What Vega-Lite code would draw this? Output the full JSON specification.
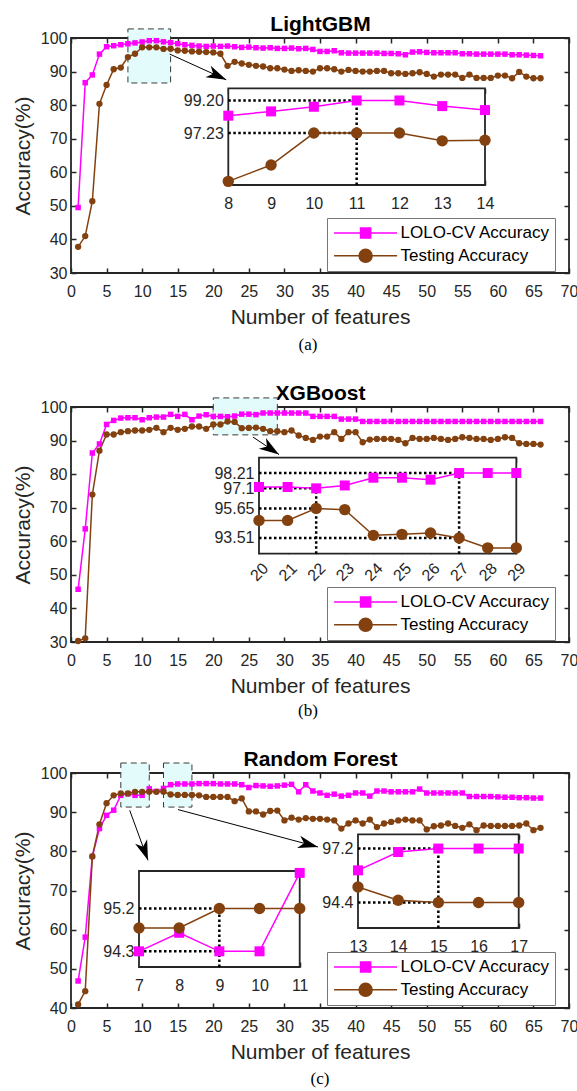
{
"$schema": "https://vega.github.io/schema/vega-lite/v6.json",
"padding": {"left": 11, "top": 12, "right": 2, "bottom": 0},
"background": "white",
"spacing": 27,
"resolve": {"scale": {"x": "independent", "y": "independent", "color": "independent"}},
"datasets": {
"a": [
{"x":1,"lolo":49.5,"test":37.8},{"x":2,"lolo":86.7,"test":41.0},{"x":3,"lolo":89.0,"test":51.4},{"x":4,"lolo":95.2,"test":80.4},{"x":5,"lolo":97.4,"test":86.0},{"x":6,"lolo":97.7,"test":90.7},{"x":7,"lolo":98.0,"test":91.2},{"x":8,"lolo":98.28,"test":94.31},{"x":9,"lolo":98.54,"test":95.30},{"x":10,"lolo":98.82,"test":97.23},
{"x":11,"lolo":99.2,"test":97.23},{"x":12,"lolo":99.2,"test":97.23},{"x":13,"lolo":98.86,"test":96.76},{"x":14,"lolo":98.62,"test":96.8},{"x":15,"lolo":98.3,"test":96.3},{"x":16,"lolo":98.0,"test":96.2},{"x":17,"lolo":97.8,"test":96.0},{"x":18,"lolo":97.6,"test":95.9},{"x":19,"lolo":97.5,"test":95.8},{"x":20,"lolo":97.6,"test":95.7},
{"x":21,"lolo":97.5,"test":95.3},{"x":22,"lolo":97.6,"test":91.7},{"x":23,"lolo":97.4,"test":92.9},{"x":24,"lolo":97.2,"test":92.4},{"x":25,"lolo":97.3,"test":92.0},{"x":26,"lolo":97.1,"test":91.7},{"x":27,"lolo":97.0,"test":91.5},{"x":28,"lolo":97.1,"test":91.0},{"x":29,"lolo":96.9,"test":91.0},{"x":30,"lolo":96.9,"test":90.6},
{"x":31,"lolo":97.0,"test":90.2},{"x":32,"lolo":96.8,"test":90.4},{"x":33,"lolo":96.9,"test":90.2},{"x":34,"lolo":96.6,"test":90.0},{"x":35,"lolo":96.0,"test":91.0},{"x":36,"lolo":96.0,"test":91.0},{"x":37,"lolo":96.2,"test":90.7},{"x":38,"lolo":95.6,"test":90.0},{"x":39,"lolo":95.5,"test":90.5},{"x":40,"lolo":95.5,"test":90.2},
{"x":41,"lolo":95.5,"test":90.0},{"x":42,"lolo":95.5,"test":90.0},{"x":43,"lolo":95.5,"test":90.2},{"x":44,"lolo":95.4,"test":90.2},{"x":45,"lolo":95.4,"test":89.5},{"x":46,"lolo":95.3,"test":89.5},{"x":47,"lolo":95.0,"test":89.3},{"x":48,"lolo":95.8,"test":89.5},{"x":49,"lolo":95.9,"test":89.8},{"x":50,"lolo":95.7,"test":89.3},
{"x":51,"lolo":95.6,"test":88.5},{"x":52,"lolo":95.6,"test":89.1},{"x":53,"lolo":95.6,"test":89.1},{"x":54,"lolo":95.6,"test":89.1},{"x":55,"lolo":95.3,"test":88.1},{"x":56,"lolo":95.3,"test":89.1},{"x":57,"lolo":95.2,"test":88.1},{"x":58,"lolo":95.2,"test":88.1},{"x":59,"lolo":95.2,"test":88.1},{"x":60,"lolo":95.2,"test":88.8},
{"x":61,"lolo":95.2,"test":88.8},{"x":62,"lolo":95.0,"test":88.0},{"x":63,"lolo":95.0,"test":89.9},{"x":64,"lolo":94.9,"test":88.5},{"x":65,"lolo":94.8,"test":88.0},{"x":66,"lolo":94.7,"test":88.0}
],
"b": [
{"x":1,"lolo":45.7,"test":30.3},{"x":2,"lolo":63.7,"test":31.1},{"x":3,"lolo":86.3,"test":73.9},{"x":4,"lolo":89.0,"test":87.0},{"x":5,"lolo":94.8,"test":91.8},{"x":6,"lolo":96.0,"test":91.8},{"x":7,"lolo":96.7,"test":92.5},{"x":8,"lolo":96.8,"test":92.8},{"x":9,"lolo":96.8,"test":93.0},{"x":10,"lolo":96.2,"test":93.0},
{"x":11,"lolo":96.8,"test":93.2},{"x":12,"lolo":97.0,"test":93.8},{"x":13,"lolo":97.0,"test":92.5},{"x":14,"lolo":97.8,"test":93.8},{"x":15,"lolo":97.2,"test":93.2},{"x":16,"lolo":97.8,"test":93.5},{"x":17,"lolo":96.2,"test":94.2},{"x":18,"lolo":97.3,"test":94.2},{"x":19,"lolo":97.7,"test":93.5},{"x":20,"lolo":97.2,"test":94.78},
{"x":21,"lolo":97.2,"test":94.78},{"x":22,"lolo":97.1,"test":95.65},{"x":23,"lolo":97.31,"test":95.56},{"x":24,"lolo":97.87,"test":93.70},{"x":25,"lolo":97.87,"test":93.77},{"x":26,"lolo":97.73,"test":93.87},{"x":27,"lolo":98.21,"test":93.51},{"x":28,"lolo":98.21,"test":92.79},{"x":29,"lolo":98.21,"test":92.79},{"x":30,"lolo":98.2,"test":92.5},
{"x":31,"lolo":98.2,"test":93.0},{"x":32,"lolo":98.2,"test":91.5},{"x":33,"lolo":98.2,"test":90.8},{"x":34,"lolo":97.2,"test":90.2},{"x":35,"lolo":97.2,"test":91.2},{"x":36,"lolo":97.2,"test":91.2},{"x":37,"lolo":97.2,"test":92.5},{"x":38,"lolo":96.4,"test":90.5},{"x":39,"lolo":96.4,"test":92.5},{"x":40,"lolo":96.4,"test":92.5},
{"x":41,"lolo":95.7,"test":89.5},{"x":42,"lolo":95.7,"test":90.3},{"x":43,"lolo":95.7,"test":90.5},{"x":44,"lolo":95.7,"test":90.5},{"x":45,"lolo":95.7,"test":90.5},{"x":46,"lolo":95.7,"test":90.2},{"x":47,"lolo":95.7,"test":89.2},{"x":48,"lolo":95.7,"test":90.8},{"x":49,"lolo":95.7,"test":90.5},{"x":50,"lolo":95.7,"test":90.5},
{"x":51,"lolo":95.7,"test":90.8},{"x":52,"lolo":95.7,"test":90.5},{"x":53,"lolo":95.7,"test":90.2},{"x":54,"lolo":95.7,"test":90.5},{"x":55,"lolo":95.7,"test":91.0},{"x":56,"lolo":95.7,"test":90.8},{"x":57,"lolo":95.7,"test":90.5},{"x":58,"lolo":95.7,"test":90.5},{"x":59,"lolo":95.7,"test":90.2},{"x":60,"lolo":95.7,"test":90.5},
{"x":61,"lolo":95.7,"test":91.0},{"x":62,"lolo":95.7,"test":90.8},{"x":63,"lolo":95.7,"test":89.2},{"x":64,"lolo":95.7,"test":89.0},{"x":65,"lolo":95.7,"test":89.0},{"x":66,"lolo":95.7,"test":88.8}
],
"c": [
{"x":1,"lolo":46.9,"test":40.9},{"x":2,"lolo":58.1,"test":44.3},{"x":3,"lolo":78.7,"test":78.7},{"x":4,"lolo":85.8,"test":86.9},{"x":5,"lolo":89.2,"test":92.3},{"x":6,"lolo":90.5,"test":94.3},{"x":7,"lolo":94.3,"test":94.79},{"x":8,"lolo":94.69,"test":94.79},{"x":9,"lolo":94.3,"test":95.2},{"x":10,"lolo":94.3,"test":95.2},
{"x":11,"lolo":95.95,"test":95.2},{"x":12,"lolo":95.3,"test":95.2},{"x":13,"lolo":96.07,"test":95.21},{"x":14,"lolo":97.02,"test":94.52},{"x":15,"lolo":97.2,"test":94.4},{"x":16,"lolo":97.2,"test":94.4},{"x":17,"lolo":97.2,"test":94.4},{"x":18,"lolo":97.3,"test":94.3},{"x":19,"lolo":97.3,"test":93.9},{"x":20,"lolo":97.3,"test":93.9},
{"x":21,"lolo":97.2,"test":93.9},{"x":22,"lolo":97.2,"test":93.9},{"x":23,"lolo":97.2,"test":92.8},{"x":24,"lolo":97.0,"test":93.5},{"x":25,"lolo":96.3,"test":90.2},{"x":26,"lolo":96.8,"test":90.2},{"x":27,"lolo":96.7,"test":89.4},{"x":28,"lolo":96.6,"test":90.3},{"x":29,"lolo":96.7,"test":90.4},{"x":30,"lolo":96.9,"test":87.9},
{"x":31,"lolo":97.1,"test":88.6},{"x":32,"lolo":95.2,"test":88.1},{"x":33,"lolo":97.0,"test":88.5},{"x":34,"lolo":95.4,"test":88.3},{"x":35,"lolo":94.9,"test":88.3},{"x":36,"lolo":94.3,"test":88.1},{"x":37,"lolo":94.6,"test":87.9},{"x":38,"lolo":94.1,"test":85.8},{"x":39,"lolo":94.3,"test":87.1},{"x":40,"lolo":94.9,"test":87.9},
{"x":41,"lolo":94.9,"test":87.1},{"x":42,"lolo":94.1,"test":88.1},{"x":43,"lolo":95.4,"test":86.2},{"x":44,"lolo":95.4,"test":87.1},{"x":45,"lolo":95.2,"test":87.5},{"x":46,"lolo":95.2,"test":87.9},{"x":47,"lolo":95.2,"test":88.1},{"x":48,"lolo":95.2,"test":87.9},{"x":49,"lolo":95.9,"test":87.9},{"x":50,"lolo":94.9,"test":85.6},
{"x":51,"lolo":94.9,"test":86.4},{"x":52,"lolo":94.9,"test":86.6},{"x":53,"lolo":94.9,"test":87.1},{"x":54,"lolo":94.9,"test":86.5},{"x":55,"lolo":94.9,"test":86.0},{"x":56,"lolo":94.0,"test":86.9},{"x":57,"lolo":94.0,"test":85.4},{"x":58,"lolo":94.0,"test":86.6},{"x":59,"lolo":94.0,"test":86.5},{"x":60,"lolo":93.9,"test":86.5},
{"x":61,"lolo":93.8,"test":86.5},{"x":62,"lolo":93.8,"test":86.5},{"x":63,"lolo":93.7,"test":86.6},{"x":64,"lolo":93.7,"test":87.1},{"x":65,"lolo":93.6,"test":85.4},{"x":66,"lolo":93.6,"test":86.0}
]
},
"vconcat": [
{
"width": 498, "height": 235,
"title": {"text": "(a)", "orient": "bottom", "offset": 10, "dx": -12},
"resolve": {"scale": {"x": "independent", "y": "independent"}},
"layer": [
{"data": {"values": [{"x": 8, "x2": 14, "y": 86.6, "y2": 102.7}]},
 "mark": {"type": "rect", "fill": "#e4fbfb", "stroke": "#3a3a3a", "strokeDash": [6, 4], "strokeWidth": 1},
 "encoding": {
  "x": {"field": "x", "type": "quantitative", "scale": {"domain": [0, 70], "nice": false, "zero": false},
        "axis": {"orient": "top", "values": [0,5,10,15,20,25,30,35,40,45,50,55,60,65,70], "tickSize": -5, "labels": false, "title": "LightGBM", "titleFontWeight": "bold", "titleFontSize": 21, "titleColor": "black", "titlePadding": 3}},
  "x2": {"field": "x2"},
  "y": {"field": "y", "type": "quantitative", "scale": {"domain": [30, 100], "nice": false, "zero": false},
        "axis": {"orient": "right", "values": [30,40,50,60,70,80,90,100], "tickSize": -5, "labels": false, "title": null}},
  "y2": {"field": "y2"}
 }},
{"data": {"name": "a"},
 "transform": [{"fold": ["lolo", "test"], "as": ["s", "y"]}],
 "encoding": {
  "x": {"field": "x", "type": "quantitative", "scale": {"domain": [0, 70], "nice": false, "zero": false},
        "axis": {"orient": "bottom", "values": [0,5,10,15,20,25,30,35,40,45,50,55,60,65,70], "tickSize": -5, "labelPadding": 15, "title": "Number of features", "titlePadding": 7}},
  "y": {"field": "y", "type": "quantitative", "scale": {"domain": [30, 100], "nice": false, "zero": false},
        "axis": {"orient": "left", "values": [30,40,50,60,70,80,90,100], "tickSize": -5, "labelPadding": 9, "title": "Accuracy(%)", "titlePadding": 7}}
 },
 "layer": [
  {"mark": {"type": "line", "strokeWidth": 1.5},
   "encoding": {"color": {"field": "s", "type": "nominal", "scale": {"domain": ["lolo", "test"], "range": ["#ff00ff", "#82410f"]},
     "legend": {"orient": "none", "legendX": 256, "legendY": 180, "title": null, "padding": 5, "strokeColor": "#777777", "fillColor": "white", "labelFontSize": 17, "labelColor": "black", "labelFont": "Liberation Sans",
       "labelExpr": "datum.value === 'lolo' ? 'LOLO-CV Accuracy' : 'Testing Accuracy'", "symbolSize": 324, "symbolOffset": 23.6, "labelOffset": 25, "rowPadding": 3.8, "symbolStrokeWidth": 1.5,
       "encode": {"symbols": {"update": {
         "shape": {"signal": "datum.value === 'lolo' ? 'M-3.5,0L3.5,0M-0.56,-0.56L0.56,-0.56L0.56,0.56L-0.56,0.56Z' : 'M-3.5,0L3.5,0M-0.72,0A0.72,0.72,0,1,0,0.72,0A0.72,0.72,0,1,0,-0.72,0Z'"},
         "fill": {"signal": "datum.value === 'lolo' ? '#ff00ff' : '#82410f'"},
         "stroke": {"signal": "datum.value === 'lolo' ? '#ff00ff' : '#82410f'"},
         "strokeWidth": {"value": 1.5}, "opacity": {"value": 1}, "size": {"value": 324}}}}}}}},
  {"transform": [{"filter": "datum.s === 'lolo'"}], "mark": {"type": "point", "shape": "square", "filled": true, "size": 30, "opacity": 1}, "encoding": {"color": {"field": "s", "type": "nominal"}}},
  {"transform": [{"filter": "datum.s === 'test'"}], "mark": {"type": "point", "shape": "circle", "filled": true, "size": 40, "opacity": 1}, "encoding": {"color": {"field": "s", "type": "nominal"}}},
  {"data": {"values": [{"x": 13.87, "y": 95.22, "x2": 21.83, "y2": 87.55}]}, "mark": {"type": "rule", "color": "black", "strokeWidth": 1}, "encoding": {"x2": {"field": "x2"}, "y2": {"field": "y2"}}},
  {"data": {"values": [{"x": 21.83, "y": 87.55}]}, "mark": {"type": "point", "shape": "M0,0L-1,-0.32L-0.72,0L-1,0.32Z", "filled": true, "color": "black", "size": 1600, "angle": 24.4, "opacity": 1}, "encoding": {}}
 ]},
{"data": {"values": [{}]},
 "mark": {"type": "rect", "fill": "white", "stroke": "#262626", "strokeWidth": 1.8},
 "encoding": {
  "x": {"datum": 8, "type": "quantitative", "scale": {"domain": [8, 14], "range": [157.3, 414], "nice": false, "zero": false},
        "axis": {"orient": "top", "offset": -50.4, "values": [8,9,10,11,12,13,14], "tickSize": -5, "labels": false, "title": null}},
  "x2": {"datum": 14},
  "y": {"datum": 94.09, "type": "quantitative", "scale": {"domain": [94.09, 99.93], "range": [147, 50.4], "nice": false, "zero": false}, "axis": null},
  "y2": {"datum": 99.93}
 }},
{"encoding": {
  "x": {"field": "x", "type": "quantitative", "scale": {"domain": [8, 14], "range": [157.3, 414], "nice": false, "zero": false},
        "axis": {"orient": "bottom", "offset": -88, "values": [8,9,10,11,12,13,14], "tickSize": -5, "labelPadding": 15, "title": null}},
  "y": {"field": "y", "type": "quantitative", "scale": {"domain": [94.09, 99.93], "range": [147, 50.4], "nice": false, "zero": false},
        "axis": {"orient": "left", "offset": -157.3, "values": [97.23, 99.2], "ticks": false, "labelPadding": 5, "labelExpr": "format(datum.value, '.2f')", "title": null}}
 },
 "layer": [
  {"data": {"values": [{"x": 8, "x2": 11, "y": 99.2, "y2": 99.2}, {"x": 8, "x2": 11, "y": 97.23, "y2": 97.23}, {"x": 11, "x2": 11, "y": 94.09, "y2": 99.2}]},
   "mark": {"type": "rule", "color": "black", "strokeWidth": 2.5, "strokeDash": [2.5, 2.5]}, "encoding": {"x2": {"field": "x2"}, "y2": {"field": "y2"}}},
  {"data": {"name": "a"}, "transform": [{"filter": "datum.x >= 8 && datum.x <= 14"}, {"fold": ["lolo", "test"], "as": ["s", "y"]}],
   "layer": [
    {"mark": {"type": "line", "strokeWidth": 1.5}, "encoding": {"color": {"field": "s", "type": "nominal"}}},
    {"transform": [{"filter": "datum.s === 'lolo'"}], "mark": {"type": "point", "shape": "square", "filled": true, "size": 100, "opacity": 1}, "encoding": {"color": {"field": "s", "type": "nominal"}}},
    {"transform": [{"filter": "datum.s === 'test'"}], "mark": {"type": "point", "shape": "circle", "filled": true, "size": 130, "opacity": 1}, "encoding": {"color": {"field": "s", "type": "nominal"}}}
   ]}
 ]}
]
},
{
"width": 498, "height": 235,
"title": {"text": "(b)", "orient": "bottom", "offset": 7, "dx": -12},
"resolve": {"scale": {"x": "independent", "y": "independent"}},
"layer": [
{"data": {"values": [{"x": 20, "x2": 29, "y": 91.7, "y2": 102.7}]},
 "mark": {"type": "rect", "fill": "#e4fbfb", "stroke": "#3a3a3a", "strokeDash": [6, 4], "strokeWidth": 1},
 "encoding": {
  "x": {"field": "x", "type": "quantitative", "scale": {"domain": [0, 70], "nice": false, "zero": false},
        "axis": {"orient": "top", "values": [0,5,10,15,20,25,30,35,40,45,50,55,60,65,70], "tickSize": -5, "labels": false, "title": "XGBoost", "titleFontWeight": "bold", "titleFontSize": 21, "titleColor": "black", "titlePadding": 3}},
  "x2": {"field": "x2"},
  "y": {"field": "y", "type": "quantitative", "scale": {"domain": [30, 100], "nice": false, "zero": false},
        "axis": {"orient": "right", "values": [30,40,50,60,70,80,90,100], "tickSize": -5, "labels": false, "title": null}},
  "y2": {"field": "y2"}
 }},
{"data": {"name": "b"},
 "transform": [{"fold": ["lolo", "test"], "as": ["s", "y"]}],
 "encoding": {
  "x": {"field": "x", "type": "quantitative", "scale": {"domain": [0, 70], "nice": false, "zero": false},
        "axis": {"orient": "bottom", "values": [0,5,10,15,20,25,30,35,40,45,50,55,60,65,70], "tickSize": -5, "labelPadding": 15, "title": "Number of features", "titlePadding": 7}},
  "y": {"field": "y", "type": "quantitative", "scale": {"domain": [30, 100], "nice": false, "zero": false},
        "axis": {"orient": "left", "values": [30,40,50,60,70,80,90,100], "tickSize": -5, "labelPadding": 9, "title": "Accuracy(%)", "titlePadding": 7}}
 },
 "layer": [
  {"mark": {"type": "line", "strokeWidth": 1.5},
   "encoding": {"color": {"field": "s", "type": "nominal", "scale": {"domain": ["lolo", "test"], "range": ["#ff00ff", "#82410f"]},
     "legend": {"orient": "none", "legendX": 256, "legendY": 180, "title": null, "padding": 5, "strokeColor": "#777777", "fillColor": "white", "labelFontSize": 17, "labelColor": "black", "labelFont": "Liberation Sans",
       "labelExpr": "datum.value === 'lolo' ? 'LOLO-CV Accuracy' : 'Testing Accuracy'", "symbolSize": 324, "symbolOffset": 23.6, "labelOffset": 25, "rowPadding": 3.8, "symbolStrokeWidth": 1.5,
       "encode": {"symbols": {"update": {
         "shape": {"signal": "datum.value === 'lolo' ? 'M-3.5,0L3.5,0M-0.56,-0.56L0.56,-0.56L0.56,0.56L-0.56,0.56Z' : 'M-3.5,0L3.5,0M-0.72,0A0.72,0.72,0,1,0,0.72,0A0.72,0.72,0,1,0,-0.72,0Z'"},
         "fill": {"signal": "datum.value === 'lolo' ? '#ff00ff' : '#82410f'"},
         "stroke": {"signal": "datum.value === 'lolo' ? '#ff00ff' : '#82410f'"},
         "strokeWidth": {"value": 1.5}, "opacity": {"value": 1}, "size": {"value": 324}}}}}}}},
  {"transform": [{"filter": "datum.s === 'lolo'"}], "mark": {"type": "point", "shape": "square", "filled": true, "size": 30, "opacity": 1}, "encoding": {"color": {"field": "s", "type": "nominal"}}},
  {"transform": [{"filter": "datum.s === 'test'"}], "mark": {"type": "point", "shape": "circle", "filled": true, "size": 40, "opacity": 1}, "encoding": {"color": {"field": "s", "type": "nominal"}}},
  {"data": {"values": [{"x": 25.58, "y": 91.04, "x2": 29.24, "y2": 85.85}]}, "mark": {"type": "rule", "color": "black", "strokeWidth": 1}, "encoding": {"x2": {"field": "x2"}, "y2": {"field": "y2"}}},
  {"data": {"values": [{"x": 29.24, "y": 85.85}]}, "mark": {"type": "point", "shape": "M0,0L-1,-0.32L-0.72,0L-1,0.32Z", "filled": true, "color": "black", "size": 1600, "angle": 33.7, "opacity": 1}, "encoding": {}}
 ]},
{"data": {"values": [{}]},
 "mark": {"type": "rect", "fill": "white", "stroke": "#262626", "strokeWidth": 1.8},
 "encoding": {
  "x": {"datum": 20, "type": "quantitative", "scale": {"domain": [20, 29], "range": [188, 445.3], "nice": false, "zero": false},
        "axis": {"orient": "top", "offset": -50.7, "values": [20,21,22,23,24,25,26,27,28,29], "tickSize": -5, "labels": false, "title": null}},
  "x2": {"datum": 29},
  "y": {"datum": 92.37, "type": "quantitative", "scale": {"domain": [92.37, 99.32], "range": [146.7, 50.7], "nice": false, "zero": false}, "axis": null},
  "y2": {"datum": 99.32}
 }},
{"encoding": {
  "x": {"field": "x", "type": "quantitative", "scale": {"domain": [20, 29], "range": [188, 445.3], "nice": false, "zero": false},
        "axis": {"orient": "bottom", "offset": -88.3, "values": [20,21,22,23,24,25,26,27,28,29], "tickSize": -5, "labelPadding": 23, "labelAngle": -45, "labelAlign": "center", "labelBaseline": "middle", "title": null}},
  "y": {"field": "y", "type": "quantitative", "scale": {"domain": [92.37, 99.32], "range": [146.7, 50.7], "nice": false, "zero": false},
        "axis": {"orient": "left", "offset": -188, "values": [93.51, 95.65, 97.1, 98.21], "ticks": false, "labelPadding": 5, "labelExpr": "'' + datum.value", "title": null}}
 },
 "layer": [
  {"data": {"values": [{"x": 20, "x2": 27, "y": 98.21, "y2": 98.21}, {"x": 20, "x2": 22, "y": 97.1, "y2": 97.1}, {"x": 20, "x2": 22, "y": 95.65, "y2": 95.65}, {"x": 20, "x2": 27, "y": 93.51, "y2": 93.51}, {"x": 22, "x2": 22, "y": 92.37, "y2": 97.1}, {"x": 27, "x2": 27, "y": 92.37, "y2": 98.21}]},
   "mark": {"type": "rule", "color": "black", "strokeWidth": 2.5, "strokeDash": [2.5, 2.5]}, "encoding": {"x2": {"field": "x2"}, "y2": {"field": "y2"}}},
  {"data": {"name": "b"}, "transform": [{"filter": "datum.x >= 20 && datum.x <= 29"}, {"fold": ["lolo", "test"], "as": ["s", "y"]}],
   "layer": [
    {"mark": {"type": "line", "strokeWidth": 1.5}, "encoding": {"color": {"field": "s", "type": "nominal"}}},
    {"transform": [{"filter": "datum.s === 'lolo'"}], "mark": {"type": "point", "shape": "square", "filled": true, "size": 100, "opacity": 1}, "encoding": {"color": {"field": "s", "type": "nominal"}}},
    {"transform": [{"filter": "datum.s === 'test'"}], "mark": {"type": "point", "shape": "circle", "filled": true, "size": 130, "opacity": 1}, "encoding": {"color": {"field": "s", "type": "nominal"}}}
   ]}
 ]}
]
},
{
"width": 498, "height": 235,
"title": {"text": "(c)", "orient": "bottom", "offset": 9},
"resolve": {"scale": {"x": "independent", "y": "independent"}},
"layer": [
{"data": {"values": [{"x": 7, "x2": 11, "y": 91.3, "y2": 102.55}, {"x": 13, "x2": 17, "y": 91.3, "y2": 102.55}]},
 "mark": {"type": "rect", "fill": "#e4fbfb", "stroke": "#3a3a3a", "strokeDash": [6, 4], "strokeWidth": 1},
 "encoding": {
  "x": {"field": "x", "type": "quantitative", "scale": {"domain": [0, 70], "nice": false, "zero": false},
        "axis": {"orient": "top", "values": [0,5,10,15,20,25,30,35,40,45,50,55,60,65,70], "tickSize": -5, "labels": false, "title": "Random Forest", "titleFontWeight": "bold", "titleFontSize": 21, "titleColor": "black", "titlePadding": 3}},
  "x2": {"field": "x2"},
  "y": {"field": "y", "type": "quantitative", "scale": {"domain": [40, 100], "nice": false, "zero": false},
        "axis": {"orient": "right", "values": [40,50,60,70,80,90,100], "tickSize": -5, "labels": false, "title": null}},
  "y2": {"field": "y2"}
 }},
{"data": {"name": "c"},
 "transform": [{"fold": ["lolo", "test"], "as": ["s", "y"]}],
 "encoding": {
  "x": {"field": "x", "type": "quantitative", "scale": {"domain": [0, 70], "nice": false, "zero": false},
        "axis": {"orient": "bottom", "values": [0,5,10,15,20,25,30,35,40,45,50,55,60,65,70], "tickSize": -5, "labelPadding": 15, "title": "Number of features", "titlePadding": 7}},
  "y": {"field": "y", "type": "quantitative", "scale": {"domain": [40, 100], "nice": false, "zero": false},
        "axis": {"orient": "left", "values": [40,50,60,70,80,90,100], "tickSize": -5, "labelPadding": 9, "title": "Accuracy(%)", "titlePadding": 7}}
 },
 "layer": [
  {"mark": {"type": "line", "strokeWidth": 1.5},
   "encoding": {"color": {"field": "s", "type": "nominal", "scale": {"domain": ["lolo", "test"], "range": ["#ff00ff", "#82410f"]},
     "legend": {"orient": "none", "legendX": 256, "legendY": 179, "title": null, "padding": 5, "strokeColor": "#777777", "fillColor": "white", "labelFontSize": 17, "labelColor": "black", "labelFont": "Liberation Sans",
       "labelExpr": "datum.value === 'lolo' ? 'LOLO-CV Accuracy' : 'Testing Accuracy'", "symbolSize": 324, "symbolOffset": 23.6, "labelOffset": 25, "rowPadding": 3.8, "symbolStrokeWidth": 1.5,
       "encode": {"symbols": {"update": {
         "shape": {"signal": "datum.value === 'lolo' ? 'M-3.5,0L3.5,0M-0.56,-0.56L0.56,-0.56L0.56,0.56L-0.56,0.56Z' : 'M-3.5,0L3.5,0M-0.72,0A0.72,0.72,0,1,0,0.72,0A0.72,0.72,0,1,0,-0.72,0Z'"},
         "fill": {"signal": "datum.value === 'lolo' ? '#ff00ff' : '#82410f'"},
         "stroke": {"signal": "datum.value === 'lolo' ? '#ff00ff' : '#82410f'"},
         "strokeWidth": {"value": 1.5}, "opacity": {"value": 1}, "size": {"value": 324}}}}}}}},
  {"transform": [{"filter": "datum.s === 'lolo'"}], "mark": {"type": "point", "shape": "square", "filled": true, "size": 30, "opacity": 1}, "encoding": {"color": {"field": "s", "type": "nominal"}}},
  {"transform": [{"filter": "datum.s === 'test'"}], "mark": {"type": "point", "shape": "circle", "filled": true, "size": 40, "opacity": 1}, "encoding": {"color": {"field": "s", "type": "nominal"}}},
  {"data": {"values": [{"x": 8.25, "y": 90.48, "x2": 10.82, "y2": 77.71}, {"x": 15.04, "y": 90.66, "x2": 34.72, "y2": 81.11}]}, "mark": {"type": "rule", "color": "black", "strokeWidth": 1}, "encoding": {"x2": {"field": "x2"}, "y2": {"field": "y2"}}},
  {"data": {"values": [{"x": 10.82, "y": 77.71}]}, "mark": {"type": "point", "shape": "M0,0L-1,-0.32L-0.72,0L-1,0.32Z", "filled": true, "color": "black", "size": 1600, "angle": 69.9, "opacity": 1}, "encoding": {}},
  {"data": {"values": [{"x": 34.72, "y": 81.11}]}, "mark": {"type": "point", "shape": "M0,0L-1,-0.32L-0.72,0L-1,0.32Z", "filled": true, "color": "black", "size": 1600, "angle": 15, "opacity": 1}, "encoding": {}}
 ]},
{"data": {"values": [{}]},
 "mark": {"type": "rect", "fill": "white", "stroke": "#262626", "strokeWidth": 1.8},
 "encoding": {
  "x": {"datum": 7, "type": "quantitative", "scale": {"domain": [7, 11], "range": [68, 228.7], "nice": false, "zero": false},
        "axis": {"orient": "top", "offset": -98, "values": [7,8,9,10,11], "tickSize": -5, "labels": false, "title": null}},
  "x2": {"datum": 11},
  "y": {"datum": 93.97, "type": "quantitative", "scale": {"domain": [93.97, 95.99], "range": [194, 98], "nice": false, "zero": false}, "axis": null},
  "y2": {"datum": 95.99}
 }},
{"encoding": {
  "x": {"field": "x", "type": "quantitative", "scale": {"domain": [7, 11], "range": [68, 228.7], "nice": false, "zero": false},
        "axis": {"orient": "bottom", "offset": -41, "values": [7,8,9,10,11], "tickSize": -5, "labelPadding": 15, "title": null}},
  "y": {"field": "y", "type": "quantitative", "scale": {"domain": [93.97, 95.99], "range": [194, 98], "nice": false, "zero": false},
        "axis": {"orient": "left", "offset": -68, "values": [94.3, 95.2], "ticks": false, "labelPadding": 5, "labelExpr": "'' + datum.value", "title": null}}
 },
 "layer": [
  {"data": {"values": [{"x": 7, "x2": 9, "y": 95.2, "y2": 95.2}, {"x": 7, "x2": 9, "y": 94.3, "y2": 94.3}, {"x": 9, "x2": 9, "y": 93.97, "y2": 95.2}]},
   "mark": {"type": "rule", "color": "black", "strokeWidth": 2.5, "strokeDash": [2.5, 2.5]}, "encoding": {"x2": {"field": "x2"}, "y2": {"field": "y2"}}},
  {"data": {"name": "c"}, "transform": [{"filter": "datum.x >= 7 && datum.x <= 11"}, {"fold": ["lolo", "test"], "as": ["s", "y"]}],
   "layer": [
    {"mark": {"type": "line", "strokeWidth": 1.5}, "encoding": {"color": {"field": "s", "type": "nominal"}}},
    {"transform": [{"filter": "datum.s === 'lolo'"}], "mark": {"type": "point", "shape": "square", "filled": true, "size": 100, "opacity": 1}, "encoding": {"color": {"field": "s", "type": "nominal"}}},
    {"transform": [{"filter": "datum.s === 'test'"}], "mark": {"type": "point", "shape": "circle", "filled": true, "size": 130, "opacity": 1}, "encoding": {"color": {"field": "s", "type": "nominal"}}}
   ]}
 ]},
{"data": {"values": [{}]},
 "mark": {"type": "rect", "fill": "white", "stroke": "#262626", "strokeWidth": 1.8},
 "encoding": {
  "x": {"datum": 13, "type": "quantitative", "scale": {"domain": [13, 17], "range": [287, 447.7], "nice": false, "zero": false},
        "axis": {"orient": "top", "offset": -61.3, "values": [13,14,15,16,17], "tickSize": -5, "labels": false, "title": null}},
  "x2": {"datum": 17},
  "y": {"datum": 93.08, "type": "quantitative", "scale": {"domain": [93.08, 97.94], "range": [155, 61.3], "nice": false, "zero": false}, "axis": null},
  "y2": {"datum": 97.94}
 }},
{"encoding": {
  "x": {"field": "x", "type": "quantitative", "scale": {"domain": [13, 17], "range": [287, 447.7], "nice": false, "zero": false},
        "axis": {"orient": "bottom", "offset": -80, "values": [13,14,15,16,17], "tickSize": -5, "labelPadding": 15, "title": null}},
  "y": {"field": "y", "type": "quantitative", "scale": {"domain": [93.08, 97.94], "range": [155, 61.3], "nice": false, "zero": false},
        "axis": {"orient": "left", "offset": -287, "values": [94.4, 97.2], "ticks": false, "labelPadding": 5, "labelExpr": "'' + datum.value", "title": null}}
 },
 "layer": [
  {"data": {"values": [{"x": 13, "x2": 15, "y": 97.2, "y2": 97.2}, {"x": 13, "x2": 15, "y": 94.4, "y2": 94.4}, {"x": 15, "x2": 15, "y": 93.08, "y2": 97.2}]},
   "mark": {"type": "rule", "color": "black", "strokeWidth": 2.5, "strokeDash": [2.5, 2.5]}, "encoding": {"x2": {"field": "x2"}, "y2": {"field": "y2"}}},
  {"data": {"name": "c"}, "transform": [{"filter": "datum.x >= 13 && datum.x <= 17"}, {"fold": ["lolo", "test"], "as": ["s", "y"]}],
   "layer": [
    {"mark": {"type": "line", "strokeWidth": 1.5}, "encoding": {"color": {"field": "s", "type": "nominal"}}},
    {"transform": [{"filter": "datum.s === 'lolo'"}], "mark": {"type": "point", "shape": "square", "filled": true, "size": 100, "opacity": 1}, "encoding": {"color": {"field": "s", "type": "nominal"}}},
    {"transform": [{"filter": "datum.s === 'test'"}], "mark": {"type": "point", "shape": "circle", "filled": true, "size": 130, "opacity": 1}, "encoding": {"color": {"field": "s", "type": "nominal"}}}
   ]}
 ]}
]
}
],
"config": {
 "font": "Liberation Sans",
 "view": {"stroke": "#262626", "strokeWidth": 1.8},
 "axis": {"domain": false, "grid": false, "tickColor": "#262626", "tickWidth": 1.5, "labelFont": "Liberation Sans", "labelFontSize": 16, "labelColor": "#262626", "titleFont": "Liberation Sans", "titleFontSize": 21, "titleFontWeight": "normal", "titleColor": "#262626", "labelFlush": false, "labelOverlap": false},
 "title": {"font": "Liberation Serif", "fontSize": 17, "fontWeight": "normal", "color": "black"}
}
}
